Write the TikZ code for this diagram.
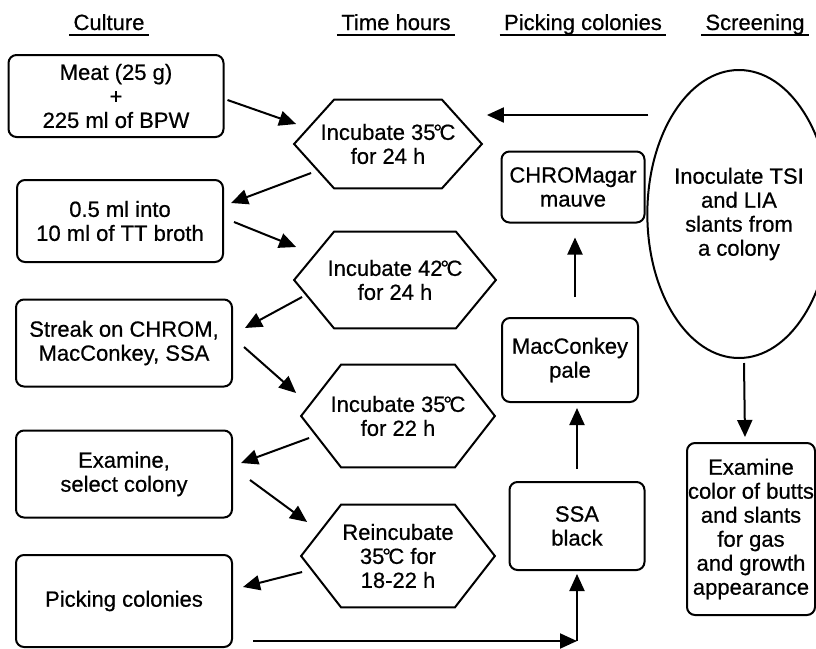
\documentclass[tikz,border=0pt]{standalone}
\usepackage{fontspec}
\setmainfont{Liberation Sans}[FakeBold=0.6]
\usetikzlibrary{arrows.meta,shapes.geometric}

\begin{document}
\begin{tikzpicture}[x=0.5pt,y=-0.5pt,
    every node/.style={font=\fontsize{11}{12}\selectfont, align=center, inner sep=0pt},
    head/.style={anchor=base, text depth=2pt, inner xsep=2pt, inner ysep=0.5pt},
    box/.style={draw, rounded corners=4pt, line width=1pt, minimum width=108pt, minimum height=43.5pt},
    hexa/.style={minimum width=96.5pt, minimum height=51pt},
    oval/.style={draw, ellipse, line width=1pt, minimum width=74pt, minimum height=144pt},
    arr/.style={-{Triangle[length=8.5pt,width=7.5pt]}, line width=1pt}]
            \useasboundingbox (0,0) rectangle (816,649);
            % column titles
            \node [head] (hcult) at (109,30) {Culture};
            \node [head] (htime) at (396,30) {Time hours};
            \node [head] (hpick) at (583,30) {Picking colonies};
            \node [head] (hscr) at (755,30) {Screening};
            \foreach \n in {hcult,htime,hpick,hscr}
                \draw [line width=1pt] (\n.south west) -- (\n.south east);
            % culture
            \node [box, minimum width=107.5pt, minimum height=41pt] (meat) at (116,96) {Meat (25 g)\\+\\225 ml of BPW};
            \node [box, minimum width=103pt, minimum height=41pt] (tt) at (120,221) {0.5 ml into\\10 ml of TT broth};
            \node [box] (streak) at (124,343) {Streak on CHROM,\\MacConkey, SSA};
            \node [box] (exam) at (124,474) {Examine,\\select colony};
            \node [box, minimum height=46pt] (picking) at (124,601) {Picking colonies};
            % time hours
            \node [hexa, minimum width=93.5pt, minimum height=44pt] (inc1) at (388,144) {Incubate 35\kern-0.1em°\kern-0.12emC\\for 24 h};
            \node [hexa, minimum width=100.5pt, minimum height=48pt] (inc2) at (395,280) {Incubate 42\kern-0.1em°\kern-0.12emC\\for 24 h};
            \node [hexa] (inc3) at (398,416) {Incubate 35\kern-0.1em°\kern-0.12emC\\for 22 h};
            \node [hexa] (inc4) at (398,556) {Reincubate\\35\kern-0.1em°\kern-0.12emC for\\18-22 h};
            \foreach \n in {inc1,inc2,inc3,inc4}
                \draw [line width=1pt] (\n.west) -- ([shift={(40,0)}]\n.north west) -- ([shift={(-40,0)}]\n.north east)
                    -- (\n.east) -- ([shift={(-40,0)}]\n.south east) -- ([shift={(40,0)}]\n.south west) -- cycle;
            % picking colonies
            \node [box, minimum width=71.5pt, minimum height=35.5pt] (chrom) at (573,187) {CHROMagar\\mauve};
            \node [box, minimum width=68pt, minimum height=42pt] (macc) at (570,360) {MacConkey\\pale};
            \node [box, minimum width=67.5pt, minimum height=44pt] (ssa) at (577,526) {SSA\\black};
            % screening
            \node [oval] (tsi) at (739,214) {Inoculate TSI\\and LIA\\slants from\\a colony};
            \node [box, minimum width=64pt, minimum height=86pt] (butts) at (751,529) {Examine\\color of butts\\and slants\\for gas\\and growth\\appearance};
            % zig-zag down the left
            \draw [arr] ([shift={(3,4)}]meat.east) -- ([shift={(2,-20)}]inc1.west);
            \draw [arr] ([shift={(17,29)}]inc1.west) -- ([shift={(7,-18)}]tt.east);
            \draw [arr] ([shift={(10,1)}]tt.east) -- ([shift={(2,-33)}]inc2.west);
            \draw [arr] ([shift={(8,17)}]inc2.west) -- ([shift={(12,-15)}]streak.east);
            \draw [arr] ([shift={(11,4)}]streak.east) -- ([shift={(-5,-23)}]inc3.west);
            \draw [arr] ([shift={(8,22)}]inc3.west) -- ([shift={(8,-11)}]exam.east);
            \draw [arr] ([shift={(17,6)}]exam.east) -- ([shift={(6,-34)}]inc4.west);
            \draw [arr] ([shift={(1,16)}]inc4.west) -- ([shift={(10,-14)}]picking.east);
            % up the picking column
            \coordinate (pk) at ([shift={(20,-7)}]picking.south east);
            \coordinate (turn) at (pk -| ssa.south);
            \draw [arr] (pk) -- (turn);
            \draw [arr] (turn) -- ([shift={(0,3)}]ssa.south);
            \draw [arr] ([shift={(0,-12)}]ssa.north) -- ([shift={(7,5)}]macc.south);
            \draw [arr] ([shift={(5,-20)}]macc.north) -- ([shift={(2,14)}]chrom.south);
            % screening
            \draw [arr] ([shift={(2,-99)}]tsi.west) -- ([shift={(5,-29)}]inc1.east);
            \draw [arr] ([shift={(5,4)}]tsi.south) -- ([shift={(-6,-5)}]butts.north);
        \end{tikzpicture}
\end{document}
